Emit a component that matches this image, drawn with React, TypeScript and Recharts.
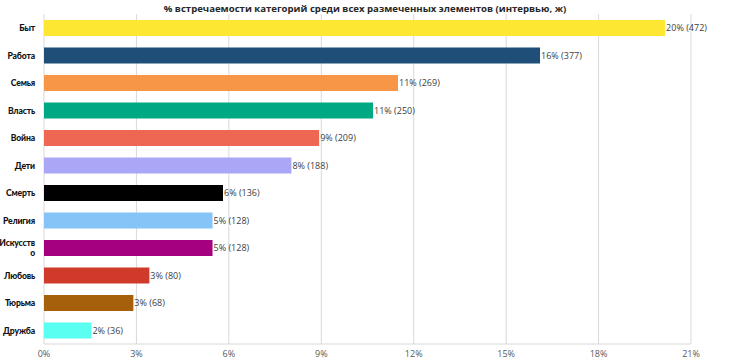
import React from "react";
import { BarChart, Bar, XAxis, YAxis, CartesianGrid, Cell, LabelList } from "recharts";

const categories = ["Быт", "Работа", "Семья", "Власть", "Война", "Дети", "Смерть", "Религия", "Искусство", "Любовь", "Тюрьма", "Дружба"];
const counts = [472, 377, 269, 250, 209, 188, 136, 128, 128, 80, 68, 36];
const percents = [20.16, 16.1, 11.49, 10.68, 8.93, 8.03, 5.81, 5.47, 5.47, 3.42, 2.9, 1.54];
const colors = ["#fde733", "#1f4e79", "#f79646", "#00a884", "#ee6752", "#aaa7f7", "#000000", "#86c4f8", "#a5007f", "#d03a2a", "#a6600c", "#5bfff1"];
const xTicks = [0, 3, 6, 9, 12, 15, 18, 21];
const title = "% встречаемости категорий среди всех размеченных элементов (интервью, ж)";

const data = categories.map((name, i) => ({
  name,
  value: percents[i],
  label: `${Math.round(percents[i])}% (${counts[i]})`,
}));

const FONT = "'Open Sans', 'Noto Sans', sans-serif";
const LABEL_FONT = "Lato, 'Open Sans', sans-serif";

const YTick = (props: any) => {
  const { x, y, payload } = props;
  const text: string = payload.value;
  const maxChars = 8;
  const lines: string[] = [];
  for (let i = 0; i < text.length; i += maxChars) lines.push(text.slice(i, i + maxChars));
  const lh = 10;
  const start = -((lines.length - 1) * lh) / 2;
  return (
    <text x={x} y={y} textAnchor="end" fontSize={8.6} fontWeight={900} fill="#111" fontFamily={LABEL_FONT} letterSpacing={-0.15}>
      {lines.map((l, i) => (
        <tspan key={i} x={x} dy={i === 0 ? start + 3.5 : lh}>
          {l}
        </tspan>
      ))}
    </text>
  );
};

const BarLabel = (props: any) => {
  const { x, y, width, height, value } = props;
  return (
    <text
      x={Number(x) + Number(width) + 1}
      y={Number(y) + Number(height) / 2 + 3}
      fontSize={9}
      fill="#404040"
      fontFamily={FONT}
      textAnchor="start"
    >
      {value}
    </text>
  );
};

export default function App() {
  return (
    <div style={{ position: "absolute", left: 0, top: 0, width: 730, height: 361, background: "#fff" }}>
      <div
        style={{
          position: "absolute",
          left: 0,
          top: 2,
          width: 730,
          textAlign: "center",
          fontFamily: FONT,
          fontWeight: 700,
          fontSize: 9.6,
          color: "#262626",
          lineHeight: "14px",
        }}
      >
        {title}
      </div>
      <BarChart
        width={730}
        height={361}
        data={data}
        layout="vertical"
        margin={{ top: 14, right: 39, bottom: 0, left: 0 }}
      >
        <CartesianGrid horizontal={false} stroke="#d9d9d9" />
        <XAxis
          type="number"
          domain={[0, 21]}
          ticks={xTicks}
          tickFormatter={(v: number) => `${v}%`}
          tickLine={false}
          axisLine={{ stroke: "#d9d9d9" }}
          tick={{ fontSize: 9, fill: "#595959", fontFamily: FONT }}
          tickMargin={1}
          height={17}
          interval={0}
        />
        <YAxis
          type="category"
          dataKey="name"
          width={44}
          tickLine={false}
          axisLine={false}
          tick={<YTick />}
          tickMargin={3}
          interval={0}
        />
        <Bar dataKey="value" barSize={16} isAnimationActive={false}>
          {data.map((d, i) => (
            <Cell key={d.name} fill={colors[i]} />
          ))}
          <LabelList dataKey="label" content={<BarLabel />} />
        </Bar>
      </BarChart>
    </div>
  );
}
